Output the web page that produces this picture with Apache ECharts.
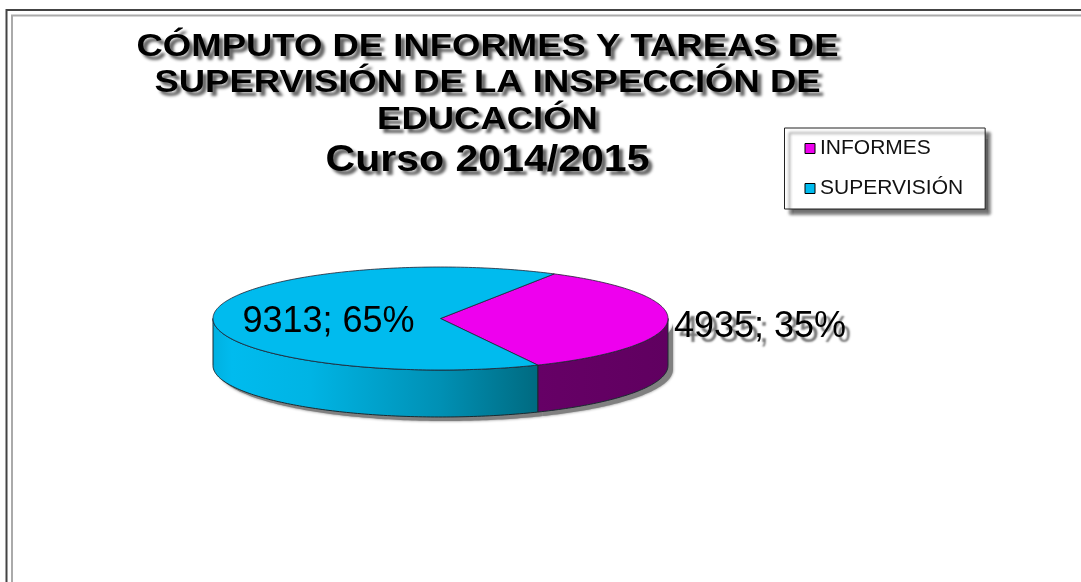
<!DOCTYPE html>
<html><head><meta charset="utf-8">
<style>html,body{margin:0;padding:0;background:#fff}#c{width:1081px;height:582px}</style>
<script src="https://cdn.jsdelivr.net/npm/echarts@6/dist/echarts.min.js"></script></head>
<body><div id="c"></div>
<script>
const categories = ['INFORMES', 'SUPERVISIÓN'];
const values = [4935, 9313];
const topColors = ['#EE00EE', '#00BBEE'];
const titleLines = ['CÓMPUTO DE INFORMES Y TAREAS DE', 'SUPERVISIÓN DE LA INSPECCIÓN DE', 'EDUCACIÓN'];
const titleCourse = 'Curso 2014/2015';

const total = values.reduce((a, b) => a + b, 0);
const CX = 440.5, CY = 318.5, RX = 227.5, RY = 51.5, DEPTH = 47, START = 30;
const FONT = '"Liberation Sans", Arial, sans-serif';
const sideFills = [
  new echarts.graphic.LinearGradient(0, 0, 1, 0, [{offset: 0, color: '#660066'}, {offset: 1, color: '#600060'}]),
  new echarts.graphic.LinearGradient(0, 0, 1, 0, [
    {offset: 0, color: '#00B0E0'}, {offset: 0.06, color: '#00BBEE'}, {offset: 0.3, color: '#00B4E4'},
    {offset: 0.7, color: '#0090B4'}, {offset: 1, color: '#006A80'}])
];
const labelStyle = [
  {x: 760, y: 327, shadow: true},
  {x: 328.5, y: 322, shadow: false}
];
function pt(deg, dy) {
  const a = deg * Math.PI / 180;
  return [CX + RX * Math.sin(a), CY - RY * Math.cos(a) + (dy || 0)];
}
function arc(a0, a1, dy) {
  const n = Math.max(2, Math.ceil(Math.abs(a1 - a0))), out = [];
  for (let i = 0; i <= n; i++) out.push(pt(a0 + (a1 - a0) * i / n, dy));
  return out;
}
function sliceRange(idx, val) {
  let before = 0;
  for (let i = 0; i < idx; i++) before += values[i];
  return [START + before / total * 360, START + (before + val) / total * 360];
}
function renderSlice(idx) {
  return function (params, api) {
    const val = api.value(0);
    const [a0, a1] = sliceRange(idx, val);
    const children = [];
    const s0 = Math.max(a0, 90), s1 = Math.min(a1, 270);
    if (s1 > s0) {
      const side = arc(s0, s1, 0).concat(arc(s1, s0, DEPTH));
      children.push({type: 'polygon', z2: 0, shape: {points: side.map(p => [p[0] + 5, p[1] + 4])},
        style: {fill: '#808080', shadowBlur: 3, shadowColor: '#808080'}});
      children.push({type: 'polygon', z2: 1, shape: {points: side},
        style: {fill: sideFills[idx], stroke: '#1a2a30', lineWidth: 1}});
    }
    const top = [[CX, CY]].concat(arc(a0, a1, 0));
    children.push({type: 'polygon', z2: 2, shape: {points: top},
      style: {fill: topColors[idx], stroke: '#223', lineWidth: 0.8}});
    const ls = labelStyle[idx];
    const pct = Math.round(val / total * 100);
    children.push({type: 'text', z2: 5, style: Object.assign({
      text: val + '; ' + pct + '%', x: ls.x, y: ls.y, align: 'center', verticalAlign: 'middle',
      font: '36px ' + FONT, fill: '#000'
    }, ls.shadow ? {textShadowColor: 'rgba(70,70,70,0.75)', textShadowBlur: 2, textShadowOffsetX: 5, textShadowOffsetY: 5} : {})});
    return {type: 'group', children};
  };
}
const framePts = (x, y) => [[x, 600], [x, y], [1100, y]];
function titleText(text, y, size) {
  return {
    type: 'text', silent: true, x: 487.5, y: y, scaleX: 1.14, z: 10,
    style: {
      text: text, x: 0, y: 0, align: 'center', verticalAlign: 'middle',
      font: 'bold ' + size + 'px ' + FONT, fill: '#000',
      textShadowColor: 'rgba(60,60,60,0.8)', textShadowBlur: 3, textShadowOffsetX: 4, textShadowOffsetY: 4
    }
  };
}
const titleYs = [47.5, 83.5, 120];
const chart = echarts.init(document.getElementById('c'), null, {renderer: 'canvas'});
chart.setOption({
  animation: false,
  backgroundColor: '#fff',
  legend: {
    left: 784.5, top: 128, orient: 'vertical',
    padding: [10, 22, 10, 20], itemGap: 19, itemWidth: 10, itemHeight: 10, icon: 'rect',
    backgroundColor: '#fff', borderColor: '#222', borderWidth: 1,
    shadowColor: 'rgba(70,70,70,0.85)', shadowBlur: 3, shadowOffsetX: 5, shadowOffsetY: 5,
    itemStyle: {borderColor: '#000', borderWidth: 1},
    selectedMode: false,
    textStyle: {fontFamily: FONT, fontSize: 21, color: '#111'},
    data: categories
  },
  graphic: [
    {type: 'polyline', silent: true, shape: {points: framePts(6.5, 10)}, style: {fill: 'none', stroke: '#444', lineWidth: 2}},
    {type: 'polyline', silent: true, shape: {points: framePts(12, 15.5)}, style: {fill: 'none', stroke: '#aaa', lineWidth: 2}},
    ...titleLines.map((t, i) => titleText(t, titleYs[i], 32)),
    titleText(titleCourse, 161, 36)
  ],
  series: categories.map((c, i) => ({
    type: 'custom', name: c, coordinateSystem: 'none', silent: true,
    itemStyle: {color: topColors[i]},
    renderItem: renderSlice(i),
    data: [[values[i]]]
  }))
});
</script></body></html>
